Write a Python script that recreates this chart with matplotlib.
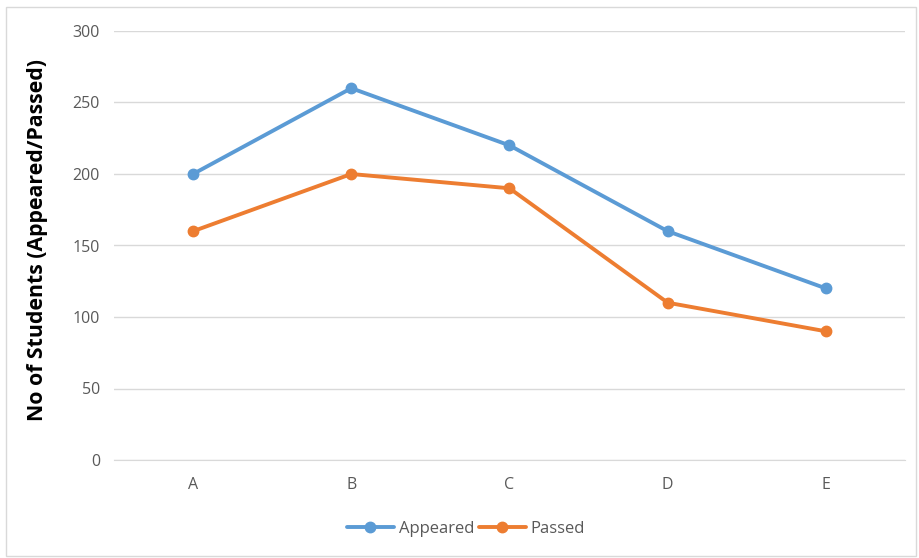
import matplotlib
matplotlib.use('Agg')
import matplotlib.pyplot as plt
import matplotlib.patches as mpatches

plt.rcParams['font.family'] = ['Open Sans', 'DejaVu Sans']

# ===================== DATA =====================
categories = ['A', 'B', 'C', 'D', 'E']
appeared = [200, 260, 220, 160, 120]
passed = [160, 200, 190, 110, 90]
yticks = [0, 50, 100, 150, 200, 250, 300]

c_app = '#5b9bd5'
c_pass = '#ed7d31'

# ===================== FIGURE =====================
fig = plt.figure(figsize=(9.2, 5.58), dpi=100)
ax = fig.add_axes([114 / 920, 1 - 460 / 558, 791 / 920, 429 / 558])

# outer chart border
fig.patches.append(mpatches.Rectangle((6 / 920, 2 / 558), 910 / 920, 549 / 558,
                                      transform=fig.transFigure, fill=False,
                                      edgecolor='#d9d9d9', linewidth=1))

x = range(len(categories))
ax.plot(x, appeared, color=c_app, linewidth=2.8, marker='o', markersize=7.5,
        label='Appeared', solid_capstyle='round')
ax.plot(x, passed, color=c_pass, linewidth=2.8, marker='o', markersize=7.5,
        label='Passed', solid_capstyle='round')

ax.set_xlim(-0.5, len(categories) - 0.5)
ax.set_ylim(0, 300)
ax.set_xticks(list(x))
ax.set_xticklabels(categories)
ax.set_yticks(yticks)
ax.tick_params(axis='both', length=0, labelsize=11.5, labelcolor='#595959')
ax.tick_params(axis='x', pad=12.5)
ax.tick_params(axis='y', pad=10)

ax.set_axisbelow(True)
ax.yaxis.grid(True, color='#d9d9d9', linewidth=1)
for s in ['top', 'right', 'left']:
    ax.spines[s].set_visible(False)
ax.spines['bottom'].set_color('#d9d9d9')

ax.set_ylabel('No of Students (Appeared/Passed)', fontsize=15.3, fontweight='bold',
              color='black')
ax.yaxis.set_label_coords(-0.083, 0.513)

fig.legend(handles=ax.get_lines(), loc='center',
           bbox_to_anchor=(466 / 920, 1 - 529 / 558), ncol=2, frameon=False,
           fontsize=12, labelcolor='#595959', handlelength=2.8, columnspacing=0.3,
           handletextpad=0.3)

fig.savefig('out.png', dpi=100)
plt.close(fig)
